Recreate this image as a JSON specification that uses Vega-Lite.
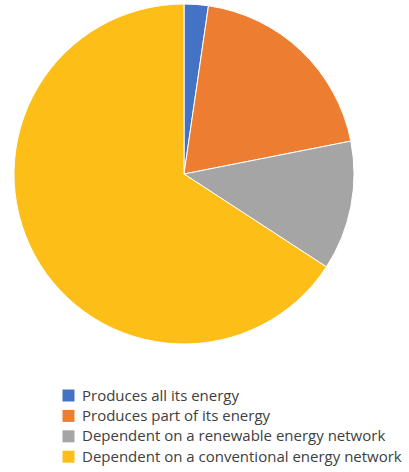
{
  "$schema": "https://vega.github.io/schema/vega-lite/v6.json",
  "width": 368,
  "height": 348,
  "autosize": {"type": "none"},
  "padding": {"left": 0, "top": 0, "right": 41, "bottom": 124},
  "background": "white",
  "view": {"stroke": null},
  "data": {
    "values": [
      {"category": "Produces all its energy", "value": 2.3, "order": 1},
      {"category": "Produces part of its energy", "value": 19.6, "order": 2},
      {"category": "Dependent on a renewable energy network", "value": 12.3, "order": 3},
      {"category": "Dependent on a conventional energy network", "value": 65.8, "order": 4}
    ]
  },
  "mark": {"type": "arc", "outerRadius": 170, "stroke": "white", "strokeWidth": 1},
  "encoding": {
    "theta": {"field": "value", "type": "quantitative", "stack": true},
    "order": {"field": "order", "type": "quantitative"},
    "color": {
      "field": "category",
      "type": "nominal",
      "sort": ["Produces all its energy", "Produces part of its energy", "Dependent on a renewable energy network", "Dependent on a conventional energy network"],
      "scale": {
        "domain": ["Produces all its energy", "Produces part of its energy", "Dependent on a renewable energy network", "Dependent on a conventional energy network"],
        "range": ["#4472C4", "#ED7D31", "#A5A5A5", "#FDBE18"]
      },
      "legend": {
        "orient": "none",
        "legendX": 61,
        "legendY": 388,
        "title": null,
        "symbolType": "square",
        "symbolSize": 144,
        "symbolStrokeWidth": 0,
        "labelFont": "Open Sans",
        "labelFontSize": 15,
        "labelColor": "#404040",
        "labelOffset": 6,
        "rowPadding": 4.4,
        "labelLimit": 400
      }
    }
  }
}
